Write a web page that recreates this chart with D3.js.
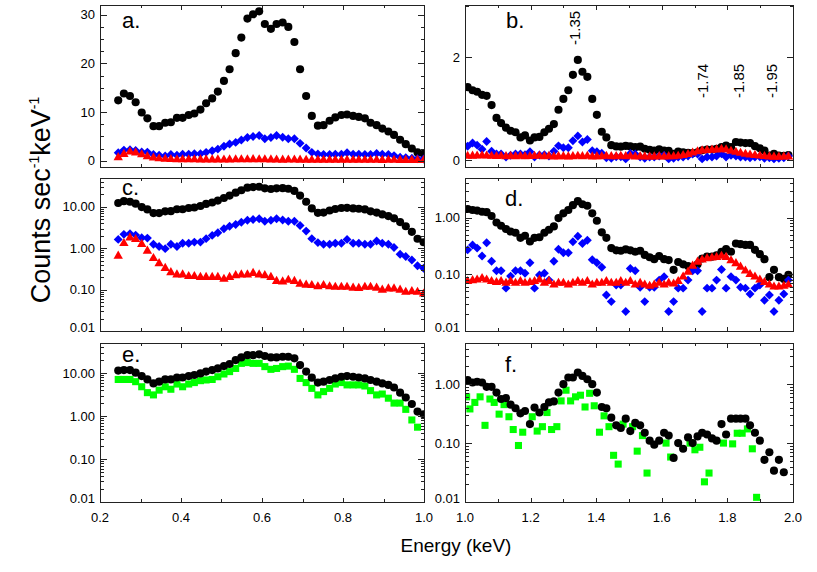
<!DOCTYPE html>
<html><head><meta charset="utf-8">
<script src="https://cdn.jsdelivr.net/npm/d3@7"></script>
<style>
body{margin:0;background:#fff}
svg{display:block}
text{font-family:"Liberation Sans",Arial,Helvetica,sans-serif;fill:#000}
</style>
</head><body>
<svg id="chart" width="817" height="572"></svg>
<script>
// ---------- data ----------
const energyLo = [0.245,0.259,0.274,0.288,0.303,0.317,0.332,0.346,0.361,0.375,0.390,0.404,0.419,0.433,0.448,0.462,0.477,0.491,0.506,0.520,0.535,0.549,0.564,0.578,0.593,0.607,0.622,0.636,0.651,0.665,0.680,0.694,0.709,0.723,0.738,0.752,0.767,0.781,0.796,0.810,0.825,0.839,0.854,0.868,0.883,0.897,0.912,0.926,0.941,0.955,0.970,0.984,0.999];
const energyHi = [1.008,1.023,1.037,1.052,1.066,1.081,1.096,1.110,1.125,1.139,1.154,1.169,1.183,1.198,1.212,1.227,1.242,1.256,1.271,1.285,1.300,1.315,1.329,1.344,1.358,1.373,1.388,1.402,1.417,1.431,1.446,1.461,1.475,1.490,1.504,1.519,1.534,1.548,1.563,1.577,1.592,1.607,1.621,1.636,1.650,1.665,1.680,1.694,1.709,1.723,1.738,1.753,1.767,1.782,1.796,1.811,1.826,1.840,1.855,1.869,1.884,1.899,1.913,1.928,1.942,1.957,1.972,1.986];

// panels a / c (0.2-1 keV)
const totalLo = [12.4,13.8,13.3,12.0,9.9,8.7,7.1,7.1,7.8,7.9,8.8,8.8,9.4,9.7,10.5,11.8,12.8,14.2,16.4,18.8,22.1,25.3,29.2,30.1,30.7,28.1,27.1,28.1,28.4,27.5,24.4,18.8,13.3,9.2,7.2,7.3,8.2,8.9,9.4,9.5,9.2,9.0,8.7,7.8,7.3,6.6,6.0,5.3,4.3,3.4,2.5,1.7,1.4];
const blueLo = [1.64,2.17,2.25,2.08,1.80,1.76,1.25,1.10,0.98,1.25,1.10,1.32,1.32,1.41,1.41,1.71,2.05,2.38,2.97,3.42,3.76,4.27,4.77,4.96,5.17,4.52,4.77,5.17,4.8,4.5,4.5,3.56,2.6,1.71,1.37,1.25,1.25,1.32,1.32,1.64,1.32,1.32,1.25,1.25,1.5,1.32,1.25,1.04,0.72,0.63,0.52,0.38,0.33];
const redLo = [0.65,1.32,1.80,1.64,1.25,0.86,0.57,0.43,0.33,0.26,0.23,0.23,0.21,0.21,0.20,0.20,0.20,0.20,0.18,0.20,0.22,0.23,0.23,0.25,0.23,0.22,0.20,0.16,0.155,0.17,0.16,0.137,0.13,0.127,0.118,0.127,0.118,0.115,0.115,0.115,0.11,0.108,0.115,0.115,0.11,0.098,0.105,0.105,0.098,0.087,0.09,0.087,0.079];

// panels b / d (1-2 keV)
const totalHi = [1.42,1.36,1.33,1.27,1.25,1.07,0.82,0.72,0.63,0.57,0.54,0.44,0.48,0.38,0.44,0.45,0.54,0.61,0.70,0.98,1.19,1.36,1.66,1.95,1.72,1.62,1.19,0.88,0.55,0.44,0.29,0.265,0.26,0.275,0.265,0.25,0.26,0.22,0.20,0.185,0.21,0.185,0.178,0.12,0.165,0.15,0.14,0.133,0.15,0.19,0.205,0.205,0.217,0.25,0.28,0.25,0.35,0.34,0.33,0.33,0.27,0.227,0.185,0.089,0.12,0.089,0.083,0.098];
const blueHi = [0.27,0.33,0.29,0.21,0.36,0.17,0.116,0.116,0.057,0.093,0.116,0.116,0.104,0.16,0.057,0.097,0.104,0.079,0.17,0.276,0.24,0.24,0.376,0.47,0.35,0.40,0.18,0.16,0.133,0.043,0.033,0.065,0.065,0.022,0.127,0.116,0.059,0.033,0.059,0.059,0.079,0.091,0.022,0.033,0.057,0.057,0.079,0.116,0.116,0.022,0.057,0.057,0.079,0.122,0.057,0.091,0.079,0.059,0.057,0.045,0.057,0.065,0.035,0.043,0.022,0.035,0.045,0.079];
const redHi = [0.075,0.078,0.08,0.085,0.08,0.075,0.072,0.075,0.07,0.075,0.07,0.075,0.07,0.072,0.075,0.08,0.07,0.075,0.065,0.07,0.07,0.065,0.07,0.075,0.07,0.075,0.065,0.07,0.07,0.075,0.07,0.07,0.075,0.07,0.075,0.065,0.07,0.065,0.062,0.065,0.07,0.065,0.07,0.068,0.075,0.09,0.11,0.14,0.165,0.18,0.19,0.195,0.2,0.21,0.2,0.175,0.155,0.135,0.115,0.1,0.09,0.08,0.072,0.065,0.06,0.06,0.062,0.065];

// panel e (0.2-1 keV)
const totalE = [11.4,11.7,11.7,10.2,8.5,7.1,5.75,6.3,7.1,7.1,7.9,7.9,8.5,9.0,9.8,10.8,11.7,12.8,14.5,16.2,20.0,23.1,26.1,26.1,27.2,24.9,23.1,23.1,24.0,24.0,22.0,15.3,10.8,7.8,6.0,6.3,6.9,7.5,8.2,8.5,8.2,7.9,7.5,6.9,6.3,5.75,5.3,4.6,3.5,2.7,1.9,1.27,1.1];
const greenE = [7.1,7.1,7.1,6.3,4.8,3.5,3.1,4.0,4.8,4.2,5.55,4.8,5.55,6.0,6.65,6.9,7.1,8.2,9.5,10.8,12.8,16.8,17.5,16.8,16.8,14.1,12.2,12.8,14.1,14.5,12.2,7.5,6.0,4.4,3.1,3.7,4.4,5.55,6.0,5.3,5.3,5.3,5.0,3.9,3.1,3.25,2.6,2.0,2.0,1.43,0.81,0.55];

// panel f (1-2 keV)
const totalF = [1.17,1.07,1.10,1.07,0.90,0.90,0.72,0.56,0.58,0.45,0.39,0.32,0.35,0.21,0.40,0.33,0.41,0.49,0.51,0.72,1.0,1.30,1.30,1.58,1.38,1.21,1.0,0.72,0.41,0.39,0.27,0.2,0.18,0.26,0.16,0.22,0.20,0.15,0.11,0.094,0.11,0.15,0.134,0.056,0.10,0.08,0.125,0.10,0.13,0.15,0.14,0.12,0.11,0.21,0.14,0.26,0.26,0.26,0.26,0.2,0.15,0.11,0.052,0.07,0.034,0.052,0.032];
const greenFEnergy = [1.005,1.015,1.030,1.046,1.061,1.076,1.089,1.104,1.119,1.134,1.147,1.163,1.176,1.205,1.220,1.236,1.250,1.264,1.280,1.293,1.308,1.322,1.337,1.352,1.366,1.380,1.394,1.410,1.424,1.439,1.453,1.467,1.482,1.511,1.525,1.541,1.555,1.613,1.627,1.686,1.701,1.716,1.730,1.744,1.788,1.816,1.830,1.845,1.861,1.876,1.889];
const greenF = [0.61,0.38,0.49,0.61,0.20,0.56,0.49,0.31,0.45,0.28,0.17,0.091,0.153,0.28,0.16,0.19,0.33,0.17,0.19,0.52,0.79,0.52,0.61,0.65,0.41,0.70,0.43,0.153,0.29,0.19,0.062,0.044,0.21,0.19,0.073,0.134,0.031,0.10,0.058,0.10,0.077,0.085,0.022,0.031,0.10,0.097,0.147,0.147,0.174,0.08,0.012];

// ticks / labels
const xTicksLo = [0.2,0.4,0.6,0.8,1.0];
const xTicksHi = [1.0,1.2,1.4,1.6,1.8,2.0];
const yTicksA = [0,10,20,30];
const yTicksB = [0,2];
const logTicksLo = [0.01,0.1,1,10];
const logTicksHi = [0.01,0.1,1];
const lineEnergies = [1.35,1.74,1.85,1.95];
const lineLabels = ['-1.35','-1.74','-1.85','-1.95'];
const panelLetters = ['a.','b.','c.','d.','e.','f.'];

// ---------- layout ----------
const svg = d3.select('#chart');
const cols = [{x0:100,x1:424,dom:[0.2,1.0],ticks:xTicksLo},{x0:465,x1:793,dom:[1.0,2.0],ticks:xTicksHi}];
const rows = [{y0:5,y1:167},{y0:178,y1:331},{y0:343,y1:502}];
const COL = {black:'#000000',blue:'#0000ff',red:'#ff0000',green:'#00ff00'};
const SYM = {
  circle:{type:d3.symbolCircle,size:52,rot:0},
  diamond:{type:d3.symbolSquare,size:40,rot:45},
  triangle:{type:d3.symbolTriangle,size:38,rot:0},
  square:{type:d3.symbolSquare,size:50,rot:0}
};

const panels = [
  {col:0,row:0,log:false,dom:[-1.3,32],major:yTicksA,minorStep:2.5,fmt:d3.format('d'),letter:[22,23],
   series:[[energyLo,totalLo,'circle','black'],[energyLo,blueLo,'diamond','blue'],[energyLo,redLo,'triangle','red']]},
  {col:1,row:0,log:false,dom:[-0.136,3.02],major:yTicksB,minorStep:1,fmt:d3.format('d'),letter:[41,23],lines:true,
   series:[[energyHi,totalHi,'circle','black'],[energyHi,blueHi,'diamond','blue'],[energyHi,redHi,'triangle','red']]},
  {col:0,row:1,log:true,dom:[0.01,50],major:logTicksLo,fmt:d3.format('.2f'),letter:[22,17],
   series:[[energyLo,totalLo,'circle','black'],[energyLo,blueLo,'diamond','blue'],[energyLo,redLo,'triangle','red']]},
  {col:1,row:1,log:true,dom:[0.01,5],major:logTicksHi,fmt:d3.format('.2f'),letter:[40,28],
   series:[[energyHi,totalHi,'circle','black'],[energyHi,blueHi,'diamond','blue'],[energyHi,redHi,'triangle','red']]},
  {col:0,row:2,log:true,dom:[0.01,50],major:logTicksLo,fmt:d3.format('.2f'),letter:[22,19],xlabels:true,
   series:[[energyLo,greenE,'square','green'],[energyLo,totalE,'circle','black']]},
  {col:1,row:2,log:true,dom:[0.01,5],major:logTicksHi,fmt:d3.format('.2f'),letter:[40,29],xlabels:true,
   series:[[greenFEnergy,greenF,'square','green'],[energyHi,totalF,'circle','black']]}
];

const defs = svg.append('defs');

panels.forEach((p,i)=>{
  const c = cols[p.col], r = rows[p.row];
  const x = d3.scaleLinear().domain(c.dom).range([c.x0,c.x1]);
  const y = (p.log ? d3.scaleLog() : d3.scaleLinear()).domain(p.dom).range([r.y1,r.y0]);
  const g = svg.append('g');

  const cid = 'clip'+i;
  defs.append('clipPath').attr('id',cid).append('rect')
    .attr('x',c.x0).attr('y',r.y0).attr('width',c.x1-c.x0).attr('height',r.y1-r.y0);

  // marks
  const mg = g.append('g').attr('clip-path',`url(#${cid})`);
  p.series.forEach(([xs,ys,shape,color])=>{
    const pts = ys.map((v,k)=>[xs[k],v]).filter(d=>d[0]!==undefined);
    const s = SYM[shape];
    mg.append('g').selectAll('path').data(pts).join('path')
      .attr('d', d3.symbol(s.type, s.size))
      .attr('transform', d=>`translate(${x(d[0])},${y(d[1])})`+(s.rot?` rotate(${s.rot})`:''))
      .attr('fill', COL[color]);
  });

  // frame
  const ax = g.append('g').attr('stroke','#222').attr('stroke-width',1).attr('shape-rendering','crispEdges');
  ax.append('rect').attr('x',c.x0+0.5).attr('y',r.y0+0.5).attr('width',c.x1-c.x0).attr('height',r.y1-r.y0).attr('fill','none');

  // y ticks
  let minor = [];
  if (p.log) {
    for (let n=-2;n<=2;n++) for (let j=2;j<=9;j++){ const v=j*Math.pow(10,n); if(v>p.dom[0]&&v<p.dom[1]) minor.push(v);} 
  } else {
    minor = d3.range(Math.ceil(p.dom[0]/p.minorStep)*p.minorStep, p.dom[1], p.minorStep)
      .filter(v=>!p.major.some(m=>Math.abs(m-v)<1e-9));
  }
  const yT = (vals,len)=>vals.forEach(v=>{
    const yy = Math.round(y(v))+0.5;
    ax.append('line').attr('x1',c.x0).attr('x2',c.x0+len).attr('y1',yy).attr('y2',yy);
    ax.append('line').attr('x1',c.x1).attr('x2',c.x1-len).attr('y1',yy).attr('y2',yy);
  });
  yT(p.major,6.5); yT(minor,3.5);

  // x ticks
  const xMinor = d3.range(c.dom[0]+0.1, c.dom[1]-0.01, 0.2);
  const xT = (vals,len)=>vals.forEach(v=>{
    const xx = Math.round(x(v))+0.5;
    ax.append('line').attr('x1',xx).attr('x2',xx).attr('y1',r.y1).attr('y2',r.y1-len);
    ax.append('line').attr('x1',xx).attr('x2',xx).attr('y1',r.y0).attr('y2',r.y0+len);
  });
  xT(c.ticks,4.5); xT(xMinor,3);

  // y tick labels
  g.append('g').selectAll('text').data(p.major).join('text')
    .attr('x',c.x0-5).attr('y',d=>y(d) - (Math.abs(y(d)-r.y1)<1?3.5:0))
    .attr('dy','0.35em').attr('text-anchor','end').attr('font-size',13)
    .text(d=>p.fmt(d));

  // x tick labels
  if (p.xlabels) {
    g.append('g').selectAll('text').data(c.ticks).join('text')
      .attr('x',d=>x(d)).attr('y',r.y1+20).attr('text-anchor','middle').attr('font-size',13)
      .text(d=>d3.format('.1f')(d));
  }

  // panel letter
  g.append('text').attr('x',c.x0+p.letter[0]).attr('y',r.y0+p.letter[1]).attr('font-size',22).text(panelLetters[i]);

  // line markers
  if (p.lines) {
    const base = [45,98,98,98];
    lineEnergies.forEach((e,k)=>{
      g.append('text').attr('transform',`translate(${x(e)},${base[k]}) rotate(-90)`)
        .attr('font-size',15).attr('text-anchor','start').text(lineLabels[k]);
    });
  }
});

// axis titles
const yl = svg.append('text').attr('transform','translate(50,200) rotate(-90)')
  .attr('text-anchor','middle').attr('font-size',27);
yl.append('tspan').text('Counts sec');
yl.append('tspan').attr('dy',-11).attr('font-size',14).text('-1');
yl.append('tspan').attr('dy',11).text('keV');
yl.append('tspan').attr('dy',-11).attr('font-size',14).text('-1');

svg.append('text').attr('x',456).attr('y',552).attr('text-anchor','middle').attr('font-size',19).text('Energy (keV)');
</script>
</body></html>
